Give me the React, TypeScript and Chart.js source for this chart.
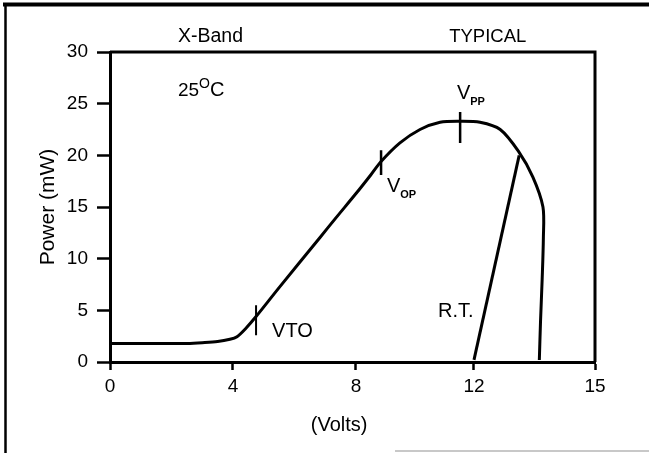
import React, { useEffect, useRef } from 'react';
import { Chart, registerables, LinearScale } from 'chart.js';

Chart.register(...registerables);

// ---- data ----
const xTickValues = [0, 4, 8, 12, 15];
const yTickValues = [0, 5, 10, 15, 20, 25, 30];

const curveVolts = [0, 1, 2, 2.5, 3.0, 3.5, 3.9, 4.13, 4.4, 4.75, 5.5, 6.83, 7.32, 8.0, 8.5, 8.85, 9.49, 10.17, 10.85, 11.53, 12.15, 12.65, 13.1, 13.46, 13.71, 13.72, 13.69, 13.65, 13.62];
const curvePower = [1.8, 1.8, 1.8, 1.8, 1.87, 1.98, 2.2, 2.45, 3.2, 4.4, 7.2, 12.05, 13.85, 16.3, 18.1, 19.4, 21.2, 22.5, 23.2, 23.3, 23.2, 22.5, 20.4, 17.9, 15.0, 12, 8, 4, 0.2];

const rtVolts = [12.0, 13.12];
const rtPower = [0.2, 20.0];

const vtoVolts = [4.75, 4.75];
const vtoPower = [5.5, 2.6];
const vopVolts = [8.85, 8.85];
const vopPower = [20.5, 18.1];
const vppVolts = [11.53, 11.53];
const vppPower = [24.2, 21.2];

// ---- axis layout (non-uniform tick spacing of the original drawing) ----
const xTickFractions = [0, 0.2536, 0.5072, 0.7505, 1];

function voltsToFraction(v: number): number {
  const n = xTickValues.length;
  for (let i = 0; i < n - 1; i++) {
    const a = xTickValues[i], b = xTickValues[i + 1];
    if (v <= b || i === n - 2) {
      return xTickFractions[i] + ((v - a) / (b - a)) * (xTickFractions[i + 1] - xTickFractions[i]);
    }
  }
  return 0;
}
function fractionToVolts(f: number): number {
  const n = xTickFractions.length;
  for (let i = 0; i < n - 1; i++) {
    const a = xTickFractions[i], b = xTickFractions[i + 1];
    if (f <= b || i === n - 2) {
      return xTickValues[i] + ((f - a) / (b - a)) * (xTickValues[i + 1] - xTickValues[i]);
    }
  }
  return 0;
}

class PiecewiseScale extends LinearScale {
  static id = 'piecewise';
  static defaults = (LinearScale as any).defaults;
  getPixelForValue(value: number) {
    return this.getPixelForDecimal(voltsToFraction(value));
  }
  getValueForPixel(pixel: number) {
    return fractionToVolts(this.getDecimalForPixel(pixel));
  }
}
Chart.register(PiecewiseScale as any);

const FONT = '"Liberation Sans", Arial, Helvetica, sans-serif';

type Part = { t: string; size: number; bold?: boolean; dy?: number };
const notes: { parts: Part[]; x: number; y: number }[] = [
  { parts: [{ t: 'X-Band', size: 19.5 }], x: 2.21, y: 31.0 },
  { parts: [{ t: 'TYPICAL', size: 18.5 }], x: 11.16, y: 31.0 },
  { parts: [{ t: '25', size: 19 }, { t: 'O', size: 14, dy: -8 }, { t: 'C', size: 20 }], x: 2.21, y: 25.7 },
  { parts: [{ t: 'V', size: 20 }, { t: 'PP', size: 11, bold: true, dy: 6 }], x: 11.42, y: 25.5 },
  { parts: [{ t: 'V', size: 20 }, { t: 'OP', size: 11, bold: true, dy: 6 }], x: 9.05, y: 16.46 },
  { parts: [{ t: 'VTO', size: 20 }], x: 5.27, y: 2.42 },
  { parts: [{ t: 'R.T.', size: 20 }], x: 10.78, y: 4.36 },
];
const xTitle = '(Volts)';
const xTitleCenterVolts = 7.45;

const pts = (xs: number[], ys: number[]) => xs.map((x, i) => ({ x, y: ys[i] }));

const decorPlugin = {
  id: 'decor',
  afterDraw(chart: any) {
    const { ctx, chartArea, scales } = chart;
    const { left, right, top, bottom } = chartArea;
    ctx.save();
    // plot box top and right
    ctx.strokeStyle = '#000';
    ctx.lineWidth = 3;
    ctx.beginPath();
    ctx.moveTo(left, top);
    ctx.lineTo(right, top);
    ctx.lineTo(right, bottom);
    ctx.stroke();
    // outer frame
    ctx.lineWidth = 4;
    ctx.beginPath();
    ctx.moveTo(3, 4.5);
    ctx.lineTo(chart.width, 4.5);
    ctx.stroke();
    ctx.lineWidth = 2.5;
    ctx.beginPath();
    ctx.moveTo(5.5, 3);
    ctx.lineTo(5.5, chart.height);
    ctx.stroke();
    ctx.strokeStyle = '#c8c8c8';
    ctx.lineWidth = 2;
    ctx.beginPath();
    ctx.moveTo(395, chart.height - 2);
    ctx.lineTo(chart.width, chart.height - 2);
    ctx.stroke();
    // annotations
    ctx.fillStyle = '#000';
    ctx.textBaseline = 'alphabetic';
    ctx.textAlign = 'left';
    for (const n of notes) {
      let px = scales.x.getPixelForValue(n.x);
      const py = scales.y.getPixelForValue(n.y);
      for (const p of n.parts) {
        ctx.font = `${p.bold ? 'bold ' : ''}${p.size}px ${FONT}`;
        ctx.fillText(p.t, px, py + (p.dy || 0));
        px += ctx.measureText(p.t).width;
      }
    }
    // x axis title
    ctx.font = `20px ${FONT}`;
    ctx.textAlign = 'center';
    ctx.textBaseline = 'middle';
    ctx.fillText(xTitle, scales.x.getPixelForValue(xTitleCenterVolts), 425);
    ctx.restore();
  },
};

export default function App() {
  const ref = useRef<HTMLCanvasElement | null>(null);
  useEffect(() => {
    if (!ref.current) return;
    const lineStyle = {
      borderColor: '#000',
      borderWidth: 3,
      pointRadius: 0,
      fill: false,
    };
    const chart = new Chart(ref.current, {
      type: 'line',
      data: {
        datasets: [
          { ...lineStyle, data: pts(curveVolts, curvePower), tension: 0.3 },
          { ...lineStyle, data: pts(rtVolts, rtPower), tension: 0 },
          { ...lineStyle, data: pts(vtoVolts, vtoPower), tension: 0, borderWidth: 2 },
          { ...lineStyle, data: pts(vopVolts, vopPower), tension: 0, borderWidth: 2.5 },
          { ...lineStyle, data: pts(vppVolts, vppPower), tension: 0, borderWidth: 2.5 },
        ],
      },
      options: {
        responsive: false,
        animation: false,
        devicePixelRatio: 1,
        layout: { padding: { left: 0, top: 52, right: 54, bottom: 0 } },
        plugins: { legend: { display: false }, tooltip: { enabled: false }, title: { display: false } },
        scales: {
          x: {
            type: 'piecewise' as any,
            min: 0,
            max: 15,
            afterBuildTicks: (s: any) => {
              s.ticks = xTickValues.map((v) => ({ value: v }));
            },
            afterFit: (s: any) => {
              s.height = 91;
            },
            ticks: {
              color: '#000',
              font: { family: FONT, size: 19 },
              padding: 5,
              autoSkip: false,
              maxRotation: 0,
              callback: (v: any) => String(v),
            },
            grid: { drawOnChartArea: false, drawTicks: true, tickLength: 8, tickColor: '#000', tickWidth: 2.5 },
            border: { display: true, color: '#000', width: 3 },
            title: { display: false },
          } as any,
          y: {
            type: 'linear',
            min: 0,
            max: 30,
            afterBuildTicks: (s: any) => {
              s.ticks = yTickValues.map((v) => ({ value: v }));
            },
            afterFit: (s: any) => {
              s.width = 110;
            },
            ticks: {
              color: '#000',
              font: { family: FONT, size: 19 },
              padding: 9,
              callback: (v: any) => String(v),
            },
            grid: { drawOnChartArea: false, drawTicks: true, tickLength: 13, tickColor: '#000', tickWidth: 2.5 },
            border: { display: true, color: '#000', width: 3 },
            title: {
              display: true,
              text: 'Power (mW)',
              color: '#000',
              font: { family: FONT, size: 21 },
              padding: { top: 36, bottom: 0 },
            },
          },
        },
      },
      plugins: [decorPlugin],
    });
    return () => chart.destroy();
  }, []);
  return (
    <div style={{ position: 'fixed', left: 0, top: 0, width: 649, height: 453, background: '#fff' }}>
      <canvas ref={ref} width={649} height={453} style={{ display: 'block', width: 649, height: 453 }} />
    </div>
  );
}
